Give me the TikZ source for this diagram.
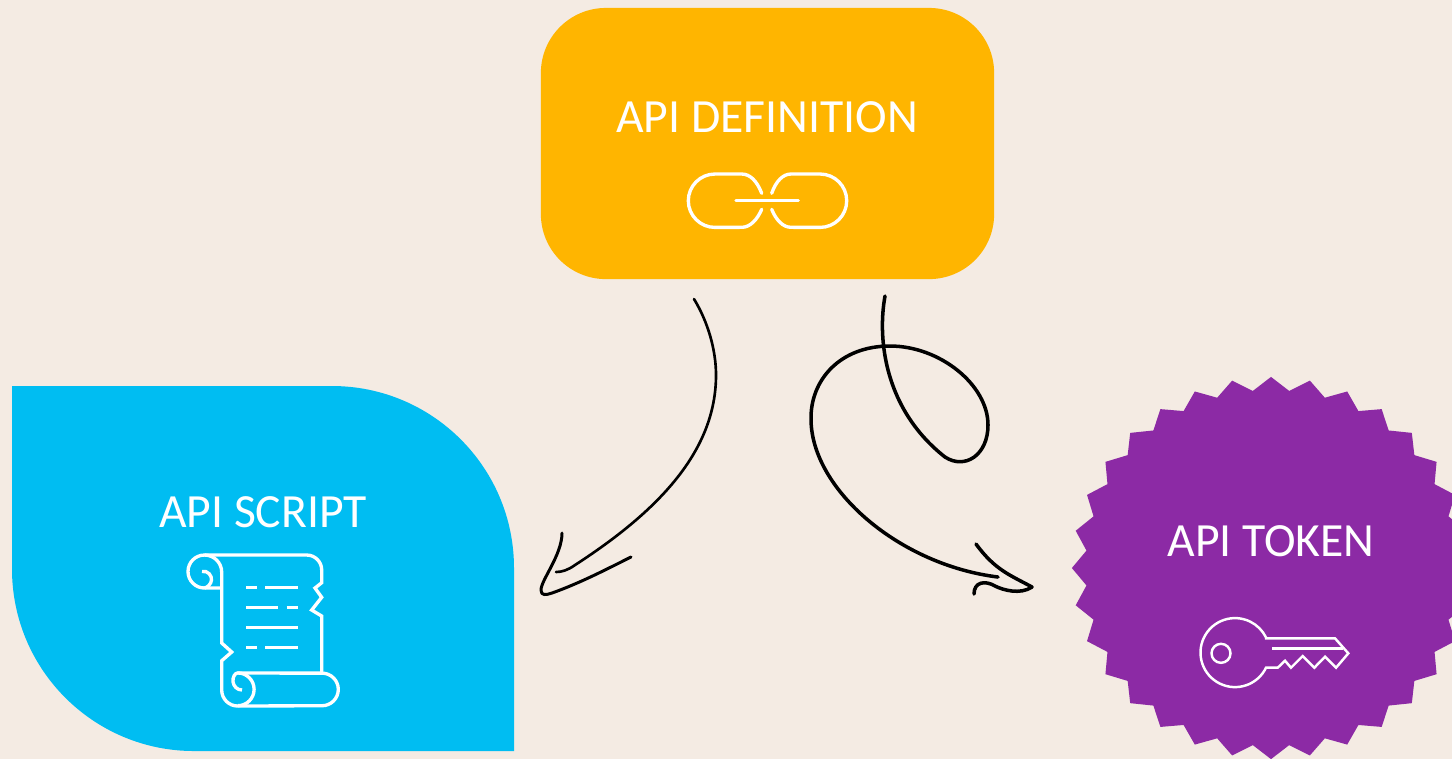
\documentclass[tikz,border=0pt]{standalone}
\usepackage{fontspec}
\setmainfont{Carlito}
\usepackage{xcolor}
\usetikzlibrary{shapes.geometric}
\definecolor{paper}{RGB}{244, 235, 227}
\definecolor{defcolor}{RGB}{255, 181, 0}
\definecolor{scriptcolor}{RGB}{0, 189, 242}
\definecolor{tokencolor}{RGB}{140, 42, 165}

\begin{document}
\begin{tikzpicture}[
    x=0.01cm, y=-0.01cm,
    defbox/.style={rectangle, fill=defcolor, rounded corners=18.5pt, minimum width=4.53cm, minimum height=2.71cm, inner sep=0pt},
    tokenstar/.style={star, star points=32, star point ratio=1.074, fill=tokencolor, minimum size=3.82cm, inner sep=0pt, outer sep=0pt, xscale=1.042, transform shape},
    boxlabel/.style={text=white, font=\fontsize{13.55}{16}\selectfont, inner sep=0pt},
    scrollline/.style={draw=white, line width=0.95pt, line join=miter},
    linkline/.style={draw=white, line width=0.95pt, line cap=round},
    keyline/.style={draw=white, line width=0.7pt},
    stroke/.style={draw=black, line width=0.85pt, line cap=round, line join=round}
]
    \clip (0,0) rectangle (1452,759);
    \fill[paper] (0,0) rectangle (1452,759);

    \node[defbox] (definition) at (767.5,143.5) {};
    \fill[scriptcolor] (12,386) -- (332,386) arc (-90:0:182) -- (514,751) -- (194,751) arc (90:180:182) -- cycle;
    \node[tokenstar] (token) at (1271,568) {};

    \node[boxlabel] (definitionlabel) at (767,117) {API DEFINITION};
    \node[boxlabel] (scriptlabel) at (263,512) {API SCRIPT};
    \node[boxlabel] (tokenlabel) at (1271,541) {API TOKEN};

    \draw[linkline] (761.7,193.3) .. controls (757,181) and (750,174) .. (741.7,174) -- (715,174) arc (-90:-270:26.7) -- (741.7,227.3) .. controls (750,227.3) and (757,220) .. (761.7,209.3);
    \draw[linkline] (771.7,193.3) .. controls (776,181) and (783,174) .. (791,174) -- (820,174) arc (-90:90:26.7) -- (791,227.3) .. controls (783,227.3) and (776,220) .. (771.7,209.3);
    \draw[linkline] (736,200.7) -- (798.3,200.7);

    \draw[scrollline] (221.7,588) -- (204.5,588) arc (90:270:16.5) -- (306.7,555) arc (-90:0:15) -- (321.7,582.7) -- (315,588) -- (321.7,597.3) -- (311.7,610) -- (321.7,616) -- (321.7,673);
    \draw[scrollline] (204.5,555) arc (-90:0:17.2) -- (221.7,643) -- (231.7,652) -- (221.7,660.7) -- (221.7,690) arc (180:90:16) -- (322,705.7) arc (90:-90:16.3) -- (238,673);
    \draw[scrollline] (202,571.5) .. controls (208,570) and (212,576) .. (211.5,580) .. controls (211,584) and (208,587) .. (204.5,588);
    \draw[scrollline] (237.7,705.7) arc (90:-90:16.4) .. controls (235,673) and (232.5,677) .. (233,681.7) .. controls (233.5,686) and (237,690) .. (242,690);
    \foreach \y/\a/\b/\c/\d in {587.3/246/256.7/265/297.7, 607.3/246/278.3/286.7/297.7, 647.3/246/256.7/265/297.7}
        \draw[scrollline] (\a,\y) -- (\b,\y) (\c,\y) -- (\d,\y);
    \draw[scrollline] (246,627.3) -- (297.7,627.3);

    \draw[keyline] (1266,638.3) -- (1335,638.3) -- (1348.3,653.3) -- (1336,667.7) -- (1325,656.7) -- (1314.3,667.7) -- (1302.7,656) -- (1291,667.7) -- (1285,660.7) -- (1277.7,667.7) -- (1266,667.7) arc (26:334:34.5) -- cycle;
    \draw[keyline] (1272.3,648.3) -- (1343.3,648.3);
    \draw[keyline] (1221,653.3) circle[radius=9.5];

    \coordinate (scriptfrom) at (694,299);
    \coordinate (scriptend) at (556,572);
    \coordinate (tokenfrom) at (885,296);
    \coordinate (tokenend) at (998,577);
    \draw[stroke, line width=0.75pt] (scriptfrom) .. controls (708,322) and (716,350) .. (716,375) .. controls (716,450) and (660,510) .. (575,565) .. controls (568,570) and (562,572) .. (scriptend);
    \draw[stroke] (562,533) .. controls (562,555) and (541,580) .. (541,590) .. controls (541,596) and (546,595) .. (552,593) .. controls (580,583) and (605,570) .. (631,557);
    \draw[stroke, line width=1pt] (tokenfrom) .. controls (877,340) and (885,410) .. (945,457) .. controls (965,470) and (988,455) .. (988,425) .. controls (988,385) and (940,346) .. (890,346) .. controls (840,346) and (810,380) .. (811,420) .. controls (812,490) and (900,565) .. (tokenend);
    \draw[stroke, line width=1pt] (976,544) .. controls (995,570) and (1010,575) .. (1032,587) .. controls (1020,595) and (1003,590) .. (995,586) .. controls (985,580) and (974,582) .. (974,594);
\end{tikzpicture}
\end{document}
